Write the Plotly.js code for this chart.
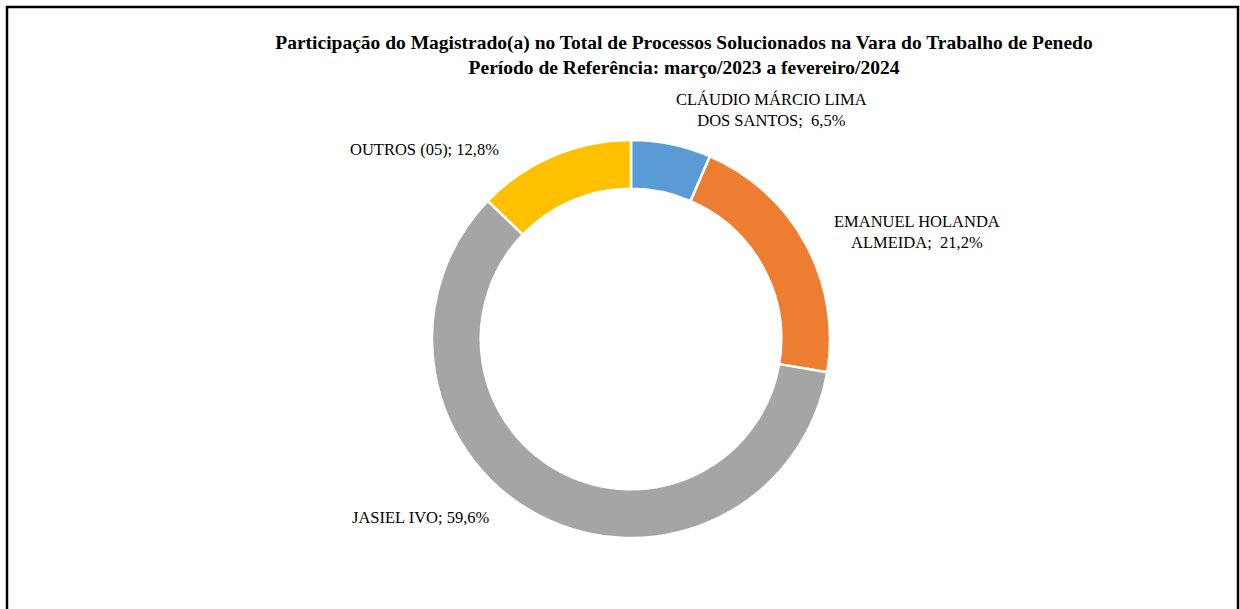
<!DOCTYPE html>
<html>
<head>
<meta charset="utf-8">
<script src="https://cdn.plot.ly/plotly-3.0.1.min.js"></script>
<style>
html,body{margin:0;padding:0;background:#fff;}
#chart{width:1240px;height:609px;}
</style>
</head>
<body>
<div id="chart"></div>
<script>
// Data
const magistrados = ["CLÁUDIO MÁRCIO LIMA DOS SANTOS", "EMANUEL HOLANDA ALMEIDA", "JASIEL IVO", "OUTROS (05)"];
const rotulosExibidos = ["CLÁUDIO MÁRCIO LIMA<br>DOS SANTOS;", "EMANUEL HOLANDA<br>ALMEIDA;", "JASIEL IVO;", "OUTROS (05);"];
const percentuais = [6.5, 21.2, 59.6, 12.8];
const cores = ["#5B9BD5", "#ED7D31", "#A5A5A5", "#FFC000"];
const tituloLinhas = ["Participação do Magistrado(a) no Total de Processos Solucionados na Vara do Trabalho de Penedo",
                      "Período de Referência: março/2023 a fevereiro/2024"];

const W = 1240, H = 609;
const px = x => x / W;
const py = y => 1 - y / H;

// Label anchor positions (layout only)
const posRotulos = [
  {x: 771, y: 110},
  {x: 917, y: 232},
  {x: 421, y: 517},
  {x: 424, y: 149}
];

const fmt = v => v.toFixed(1).replace('.', ',') + '%';
const serif = "'Liberation Serif', 'Times New Roman', serif";

const annotations = magistrados.map((m, i) => {
  const twoLine = rotulosExibidos[i].indexOf('<br>') >= 0;
  return {
    xref: 'paper', yref: 'paper',
    x: px(posRotulos[i].x), y: py(posRotulos[i].y),
    xanchor: 'center', yanchor: 'middle',
    text: rotulosExibidos[i] + (twoLine ? '\u00a0 ' : ' ') + fmt(percentuais[i]),
    showarrow: false,
    align: 'center',
    font: {family: serif, size: 16.5, color: '#000'}
  };
});

const trace = {
  type: 'pie',
  labels: magistrados,
  values: percentuais,
  hole: 0.755,
  sort: false,
  direction: 'clockwise',
  rotation: 0,
  textinfo: 'none',
  hoverinfo: 'label+percent',
  marker: {colors: cores, line: {color: '#ffffff', width: 2.5}},
  domain: {x: [px(432), px(830)], y: [py(538), py(140)]},
  showlegend: false
};

const layout = {
  width: W, height: H,
  margin: {l: 0, r: 0, t: 0, b: 0},
  paper_bgcolor: '#ffffff',
  plot_bgcolor: '#ffffff',
  showlegend: false,
  title: {
    text: '<b>' + tituloLinhas.join('<br>') + '</b>',
    font: {family: serif, size: 19.5, color: '#000'},
    x: px(684), xanchor: 'center', xref: 'paper',
    y: py(49), yanchor: 'middle', yref: 'paper'
  },
  annotations: annotations,
  shapes: [{
    type: 'rect', xref: 'paper', yref: 'paper',
    x0: px(7), x1: px(1238), y0: py(620), y1: py(7),
    line: {color: '#000', width: 2.5}, fillcolor: 'rgba(0,0,0,0)'
  }]
};

Plotly.newPlot('chart', [trace], layout, {staticPlot: true, displayModeBar: false});
</script>
</body>
</html>
